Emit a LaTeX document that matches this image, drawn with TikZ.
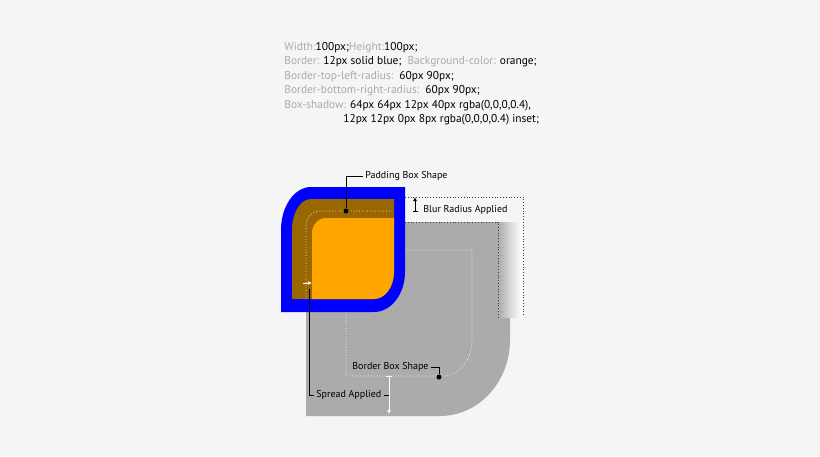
\documentclass[tikz,border=0pt]{standalone}
\usepackage{fontspec}
\setmainfont{PT Sans}
\usetikzlibrary{arrows.meta}
\definecolor{bgcol}{RGB}{245,245,245}
\definecolor{shadowgray}{RGB}{171,171,171}
\definecolor{paddingbrown}{RGB}{153,102,0}
\definecolor{boxorange}{RGB}{255,165,0}
\definecolor{csskey}{RGB}{170,170,170}
\definecolor{guidegray}{RGB}{60,60,60}
\newcommand{\csskey}[1]{\textcolor{csskey}{#1}}
\tikzset{
        lbl/.style={font=\fontsize{10}{11}\selectfont, inner sep=2pt},
        dot/.style={circle, fill=black, inner sep=0pt, minimum size=5pt},
        wdots/.style={white, dotted, line width=0.7pt},
        gdots/.style={guidegray, dotted, line width=0.8pt},
        tip/.style={-{Latex[length=4pt,width=4pt]}},
}

\begin{document}
\begin{tikzpicture}[x=1pt, y=-1pt, line width=0.8pt]
        \useasboundingbox[fill=bgcol] (0,0) rectangle (820,456);
        % css text
        \node (css) at (284,42) [anchor=north west, align=left, inner sep=0pt, font=\fontsize{11.4}{14.4}\selectfont]
        {\csskey{Width:}100px;\csskey{Height:}100px;\\
        \csskey{Border:} 12px solid blue;\ \ \csskey{Background-color:} orange;\\
        \csskey{Border-top-left-radius:}\ \ 60px 90px;\\
        \csskey{Border-bottom-right-radius:}\ \ 60px 90px;\\
        \csskey{Box-shadow:} 64px 64px 12px 40px rgba(0,0,0,0.4),\\
        \hspace*{59pt}12px 12px 0px 8px rgba(0,0,0,0.4) inset;};
        % outer shadow
        \fill[shadowgray] (306,222) -- (498,222) -- (498,317) -- (510,317) -- (510,340)
                .. controls (510,382) and (478.6,416) .. (440,416) -- (306,416) -- cycle;
        \shade[left color=shadowgray, right color=white, middle color=shadowgray!45!white] (498,222) rectangle (522,317);
        \draw[gdots] (405,197) -- (523,197) -- (523,317);
        \draw[gdots] (405,222) -- (498,222) -- (498,317);
        \draw[wdots] (346,312) -- (346,376) -- (443,376)
                .. controls (459,376) and (472,360) .. (472,340) -- (472,250) -- (405,250);
        % border, padding, content
        \fill[blue] (281,312) -- (281,230) .. controls (281,206.3) and (294.4,187) .. (311,187)
                -- (405,187) -- (405,272) .. controls (405,294.1) and (391.1,312) .. (374,312) -- cycle;
        \fill[paddingbrown] (292,299) -- (292,230) .. controls (292,212.9) and (300.5,199) .. (311,199)
                -- (394,199) -- (394,272) .. controls (394,286.9) and (385,299) .. (374,299) -- cycle;
        \begin{scope}
                \clip (292,299) -- (292,230) .. controls (292,212.9) and (300.5,199) .. (311,199)
                        -- (394,199) -- (394,272) .. controls (394,286.9) and (385,299) .. (374,299) -- cycle;
                \fill[boxorange] (312,305) -- (312,233) .. controls (312,224.7) and (318.3,218) .. (326,218)
                        -- (400,218) -- (400,305) -- cycle;
        \end{scope}
        \draw[wdots] (306,299) -- (306,225) .. controls (306,217.3) and (312.3,211) .. (320,211) -- (394,211);
        % labels
        \node (padlbl) at (363,176) [lbl, anchor=west] {Padding Box Shape};
        \node (paddot) at (346,211) [dot] {};
        \draw (padlbl.west) -| (paddot);
        \coordinate (blurtop) at (415,197);
        \coordinate (blurmid) at (415,212);
        \coordinate (blurbot) at (415,223);
        \node (blurlbl) at (421,210) [lbl, anchor=west] {Blur Radius Applied};
        \draw[{Bar[width=5pt]}-{Latex[length=4pt,width=4pt]}] (blurmid) -- (blurtop);
        \draw[white, tip] (blurmid) -- (blurbot);
        \coordinate (spreadleft) at (303,283);
        \coordinate (spreadright) at (312,283);
        \coordinate (spreadline) at (309,289);
        \draw[white, tip] (spreadleft) -- (spreadright);
        \node (spreadlbl) at (314,395) [lbl, anchor=west] {Spread Applied};
        \draw (spreadline) |- (spreadlbl.west);
        \coordinate (spreadtop) at (389,376);
        \coordinate (spreadbot) at (389,414);
        \draw[white, {Bar[width=6pt]}-{Latex[length=4pt,width=4pt]}] (spreadtop) -- (spreadbot);
        \draw (spreadlbl.east) -- (spreadlbl.east -| spreadtop);
        \node (borderlbl) at (350,367) [lbl, anchor=west] {Border Box Shape};
        \node (borderdot) at (439,377) [dot] {};
        \draw (borderlbl.east) -| (borderdot);
\end{tikzpicture}
\end{document}
